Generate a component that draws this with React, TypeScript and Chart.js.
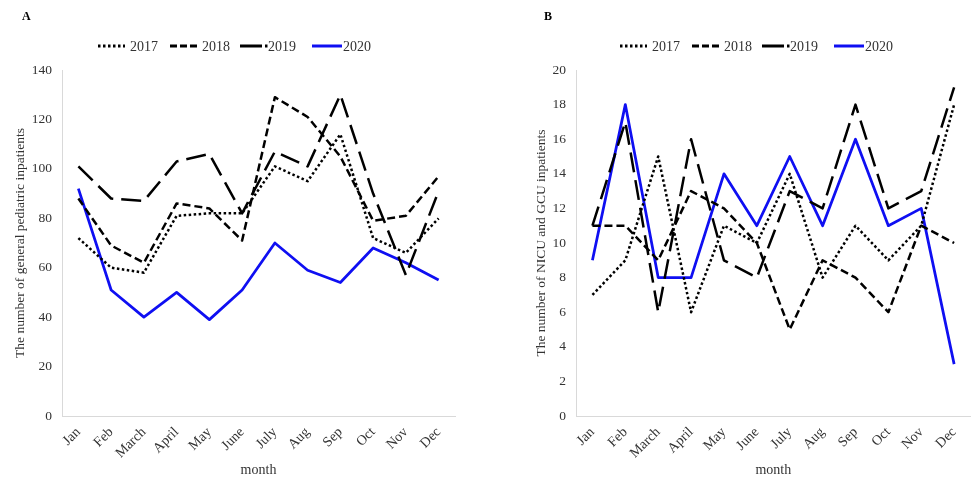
import React, { useEffect, useRef } from "react";
import { Chart, registerables } from "chart.js";

Chart.register(...registerables);

const months = ["Jan", "Feb", "March", "April", "May", "June", "July", "Aug", "Sep", "Oct", "Nov", "Dec"];
const yearLabels = ["2017", "2018", "2019", "2020"];

// Panel A: general pediatric inpatients
const general2017 = [72, 60, 58, 81, 82, 82, 101, 95, 114, 72, 66, 80];
const general2018 = [88, 69, 62, 86, 84, 71, 129, 121, 105, 79, 81, 97];
const general2019 = [101, 88, 87, 103, 106, 82, 107, 101, 130, 90, 57, 91];
const general2020 = [92, 51, 40, 50, 39, 51, 70, 59, 54, 68, 62, 55];
const generalAxis = { min: 0, max: 140, step: 20 };

// Panel B: NICU and GCU inpatients
const nicu2017 = [7, 9, 15, 6, 11, 10, 14, 8, 11, 9, 11, 18];
const nicu2018 = [11, 11, 9, 13, 12, 10, 5, 9, 8, 6, 11, 10];
const nicu2019 = [11, 17, 6, 16, 9, 8, 13, 12, 18, 12, 13, 19];
const nicu2020 = [9, 18, 8, 8, 14, 11, 15, 11, 16, 11, 12, 3];
const nicuAxis = { min: 0, max: 20, step: 2 };

const FONT = "'Times New Roman', 'Liberation Serif', serif";
const TEXT = "#333333";
const AXIS = "#d9d9d9";
const BLUE = "#0f0ff2";

const lineStyles = [
  { color: "#000000", dash: [2.5, 2.5], width: 2.5 },
  { color: "#000000", dash: [8, 4], width: 2.5 },
  { color: "#000000", dash: [20, 8], width: 2.5 },
  { color: BLUE, dash: [] as number[], width: 2.75 },
];

const legendSamples = [
  { x1: 0, x2: 27, tx: 32, dash: [2.5, 2.5], color: "#000000" },
  { x1: 72, x2: 99, tx: 104, dash: [7, 3], color: "#000000" },
  { x1: 142, x2: 170, tx: 170, dash: [22, 3, 2.5, 50], color: "#000000" },
  { x1: 214, x2: 244, tx: 245, dash: [] as number[], color: BLUE },
];

const decorPlugin = {
  id: "decor",
  afterDraw(chart: any, _args: any, opts: any) {
    const ctx = chart.ctx as CanvasRenderingContext2D;
    ctx.save();
    ctx.fillStyle = "#000";
    ctx.font = `bold 12px ${FONT}`;
    ctx.textBaseline = "alphabetic";
    ctx.textAlign = "left";
    ctx.fillText(opts.letter, opts.letterX, 20);

    const y = 46;
    const x0 = opts.legendX;
    ctx.font = `14px ${FONT}`;
    ctx.textBaseline = "middle";
    legendSamples.forEach((s, i) => {
      ctx.beginPath();
      ctx.setLineDash(s.dash);
      ctx.lineWidth = 3;
      ctx.strokeStyle = s.color;
      ctx.lineCap = "butt";
      ctx.moveTo(x0 + s.x1, y);
      ctx.lineTo(x0 + s.x2, y);
      ctx.stroke();
      ctx.setLineDash([]);
      ctx.fillStyle = TEXT;
      ctx.fillText(yearLabels[i], x0 + s.tx, y + 1);
    });
    ctx.restore();
  },
};

type PanelProps = {
  letter: string;
  letterX: number;
  legendX: number;
  series: number[][];
  axis: { min: number; max: number; step: number };
  yTitle: string;
  padLeft: number;
  yWidth: number;
  padRight: number;
  left: number;
};

function Panel(p: PanelProps) {
  const ref = useRef<HTMLCanvasElement | null>(null);
  useEffect(() => {
    if (!ref.current) return;
    const chart = new Chart(ref.current, {
      type: "line",
      data: {
        labels: months,
        datasets: p.series.map((vals, i) => ({
          label: yearLabels[i],
          data: vals,
          borderColor: lineStyles[i].color,
          backgroundColor: lineStyles[i].color,
          borderWidth: lineStyles[i].width,
          borderDash: lineStyles[i].dash,
          borderCapStyle: "butt",
          borderJoinStyle: "round",
          pointRadius: 0,
          tension: 0,
          fill: false,
        })),
      },
      options: {
        responsive: false,
        animation: false,
        layout: { padding: { left: p.padLeft, right: p.padRight, top: 70, bottom: 0 } },
        plugins: {
          legend: { display: false },
          tooltip: { enabled: false },
          decor: { letter: p.letter, letterX: p.letterX, legendX: p.legendX },
        } as any,
        scales: {
          x: {
            type: "category",
            offset: true,
            grid: { display: false, drawTicks: false },
            border: { display: true, color: AXIS, width: 1 },
            ticks: {
              minRotation: 45,
              maxRotation: 45,
              autoSkip: false,
              padding: 8,
              color: TEXT,
              font: { family: FONT, size: 14 },
            },
            title: {
              display: true,
              text: "month",
              color: TEXT,
              padding: 0,
              font: { family: FONT, size: 14, lineHeight: 1 },
            },
            afterFit(scale: any) {
              scale.height = 477 - 416;
            },
          },
          y: {
            min: p.axis.min,
            max: p.axis.max,
            grid: { display: false, drawTicks: false },
            border: { display: true, color: AXIS, width: 1 },
            ticks: {
              stepSize: p.axis.step,
              padding: 10,
              color: TEXT,
              font: { family: FONT, size: 13.5 },
            },
            title: {
              display: true,
              text: p.yTitle,
              color: TEXT,
              padding: 0,
              font: { family: FONT, size: 13.5, lineHeight: 1 },
            },
            afterFit(scale: any) {
              scale.width = p.yWidth;
            },
          },
        },
      } as any,
      plugins: [decorPlugin as any],
    });
    return () => chart.destroy();
  }, []);
  return (
    <canvas
      ref={ref}
      width={487}
      height={477}
      style={{ position: "absolute", left: p.left, top: 0, width: 487, height: 477 }}
    />
  );
}

export default function App() {
  return (
    <div style={{ position: "absolute", left: 0, top: 0, width: 974, height: 477, background: "#fff", overflow: "hidden" }}>
      <Panel
        letter="A"
        letterX={22}
        legendX={98}
        series={[general2017, general2018, general2019, general2020]}
        axis={generalAxis}
        yTitle="The number of general pediatric inpatients"
        padLeft={14}
        yWidth={48}
        padRight={32}
        left={0}
      />
      <Panel
        letter="B"
        letterX={57}
        legendX={133}
        series={[nicu2017, nicu2018, nicu2019, nicu2020]}
        axis={nicuAxis}
        yTitle="The number of NICU and GCU inpatients"
        padLeft={48}
        yWidth={41}
        padRight={0}
        left={487}
      />
    </div>
  );
}
